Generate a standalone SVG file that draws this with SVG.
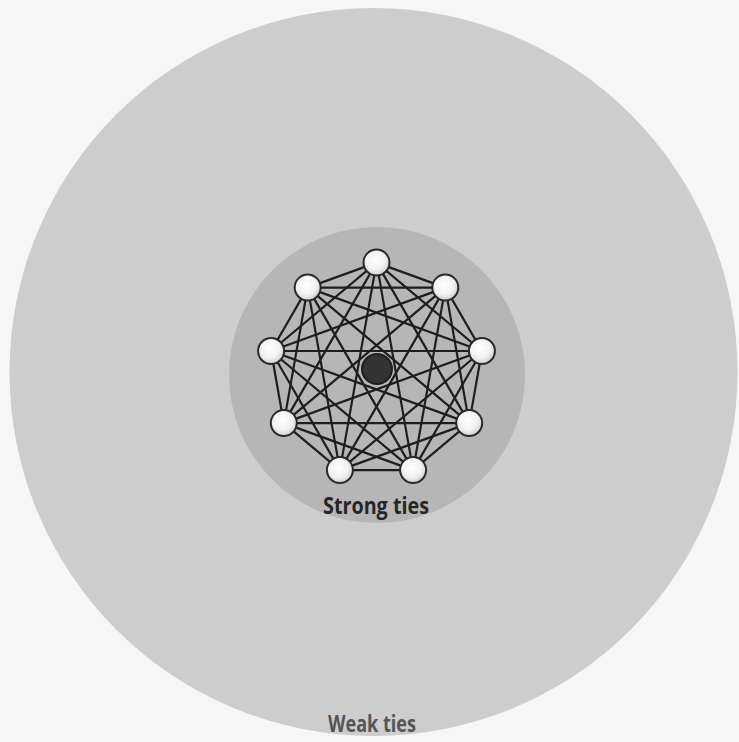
<svg xmlns="http://www.w3.org/2000/svg" width="739" height="742" viewBox="0 0 739 742">
<defs>
<radialGradient id="ng" cx="0.45" cy="0.4" r="0.6">
<stop offset="0" stop-color="#ffffff"/>
<stop offset="0.6" stop-color="#f2f2f2"/>
<stop offset="1" stop-color="#cfcfcf"/>
</radialGradient>
</defs>
<style>
.edge{stroke:#1e1e1e;stroke-width:2.2;fill:none}
.node{fill:url(#ng);stroke:#2a2a2a;stroke-width:2}
.lbl{font-family:"Open Sans","Liberation Sans",sans-serif;font-weight:bold;text-anchor:middle}
</style>
<rect width="739" height="742" fill="#f6f6f6"/>
<g id="weak-zone">
<circle cx="373.5" cy="372" r="364" fill="#cdcdcd"/>
<text class="lbl" x="372" y="732" font-size="23" fill="#555555" textLength="88" lengthAdjust="spacingAndGlyphs">Weak ties</text>
</g>
<g id="strong-zone">
<circle cx="377" cy="375" r="148" fill="#b6b6b6"/>
<text class="lbl" x="376" y="514" font-size="23" fill="#262626" textLength="106" lengthAdjust="spacingAndGlyphs">Strong ties</text>
</g>
<g id="connectors">
<line class="edge" x1="376.5" y1="262.6" x2="445.3" y2="287.6"/>
<line class="edge" x1="376.5" y1="262.6" x2="481.9" y2="351.0"/>
<line class="edge" x1="376.5" y1="262.6" x2="469.2" y2="423.1"/>
<line class="edge" x1="376.5" y1="262.6" x2="413.1" y2="470.1"/>
<line class="edge" x1="376.5" y1="262.6" x2="339.9" y2="470.1"/>
<line class="edge" x1="376.5" y1="262.6" x2="283.8" y2="423.1"/>
<line class="edge" x1="376.5" y1="262.6" x2="271.1" y2="351.0"/>
<line class="edge" x1="376.5" y1="262.6" x2="307.7" y2="287.6"/>
<line class="edge" x1="445.3" y1="287.6" x2="481.9" y2="351.0"/>
<line class="edge" x1="445.3" y1="287.6" x2="469.2" y2="423.1"/>
<line class="edge" x1="445.3" y1="287.6" x2="413.1" y2="470.1"/>
<line class="edge" x1="445.3" y1="287.6" x2="339.9" y2="470.1"/>
<line class="edge" x1="445.3" y1="287.6" x2="283.8" y2="423.1"/>
<line class="edge" x1="445.3" y1="287.6" x2="271.1" y2="351.0"/>
<line class="edge" x1="445.3" y1="287.6" x2="307.7" y2="287.6"/>
<line class="edge" x1="481.9" y1="351.0" x2="469.2" y2="423.1"/>
<line class="edge" x1="481.9" y1="351.0" x2="413.1" y2="470.1"/>
<line class="edge" x1="481.9" y1="351.0" x2="339.9" y2="470.1"/>
<line class="edge" x1="481.9" y1="351.0" x2="283.8" y2="423.1"/>
<line class="edge" x1="481.9" y1="351.0" x2="271.1" y2="351.0"/>
<line class="edge" x1="481.9" y1="351.0" x2="307.7" y2="287.6"/>
<line class="edge" x1="469.2" y1="423.1" x2="413.1" y2="470.1"/>
<line class="edge" x1="469.2" y1="423.1" x2="339.9" y2="470.1"/>
<line class="edge" x1="469.2" y1="423.1" x2="283.8" y2="423.1"/>
<line class="edge" x1="469.2" y1="423.1" x2="271.1" y2="351.0"/>
<line class="edge" x1="469.2" y1="423.1" x2="307.7" y2="287.6"/>
<line class="edge" x1="413.1" y1="470.1" x2="339.9" y2="470.1"/>
<line class="edge" x1="413.1" y1="470.1" x2="283.8" y2="423.1"/>
<line class="edge" x1="413.1" y1="470.1" x2="271.1" y2="351.0"/>
<line class="edge" x1="413.1" y1="470.1" x2="307.7" y2="287.6"/>
<line class="edge" x1="339.9" y1="470.1" x2="283.8" y2="423.1"/>
<line class="edge" x1="339.9" y1="470.1" x2="271.1" y2="351.0"/>
<line class="edge" x1="339.9" y1="470.1" x2="307.7" y2="287.6"/>
<line class="edge" x1="283.8" y1="423.1" x2="271.1" y2="351.0"/>
<line class="edge" x1="283.8" y1="423.1" x2="307.7" y2="287.6"/>
<line class="edge" x1="271.1" y1="351.0" x2="307.7" y2="287.6"/>
</g>
<g id="ego"><circle cx="377" cy="369" r="15" fill="#333333" stroke="#1e1e1e" stroke-width="2"/></g>
<g id="n0"><circle class="node" cx="376.5" cy="262.6" r="13"/></g>
<g id="n1"><circle class="node" cx="445.3" cy="287.6" r="13"/></g>
<g id="n2"><circle class="node" cx="481.9" cy="351.0" r="13"/></g>
<g id="n3"><circle class="node" cx="469.2" cy="423.1" r="13"/></g>
<g id="n4"><circle class="node" cx="413.1" cy="470.1" r="13"/></g>
<g id="n5"><circle class="node" cx="339.9" cy="470.1" r="13"/></g>
<g id="n6"><circle class="node" cx="283.8" cy="423.1" r="13"/></g>
<g id="n7"><circle class="node" cx="271.1" cy="351.0" r="13"/></g>
<g id="n8"><circle class="node" cx="307.7" cy="287.6" r="13"/></g>
</svg>
